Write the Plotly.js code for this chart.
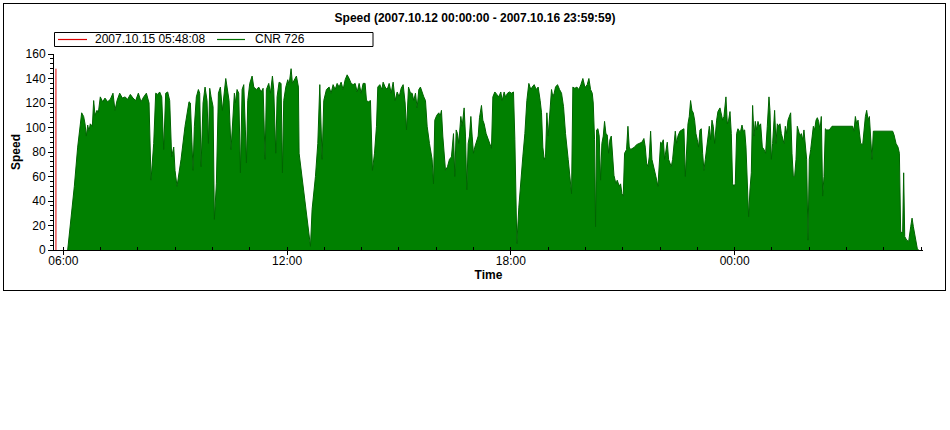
<!DOCTYPE html>
<html><head><meta charset="utf-8">
<script src="https://cdn.plot.ly/plotly-3.0.1.min.js"></script>
<style>
html,body{margin:0;padding:0;background:#fff;}
#wrap{position:relative;width:950px;height:430px;}
#chart{width:950px;height:430px;}
#frame{position:absolute;left:3px;top:3px;width:941px;height:286px;border:1px solid #000;pointer-events:none;}
</style></head><body>
<div id="wrap"><div id="chart"></div><div id="frame"></div></div>
<script>
// ---- data ----
const chartTitle = 'Speed (2007.10.12 00:00:00 - 2007.10.16 23:59:59)';
const markerTime = '2007-10-15 05:48:08';
const markerLabel = '2007.10.15 05:48:08';
const seriesName = 'CNR 726';
const xTitle = 'Time';
const yTitle = 'Speed';
const dayStartUTC = Date.UTC(2007, 9, 15); // minutes below are counted from 2007-10-15 00:00

const minA = [367.0,372.3,377.7,383.1,387.3,389.5,392.7,394.9,397.0,399.2,401.3,403.4,406.7,408.8,411.0,414.2,416.3,419.5,423.3,427.0,431.3,435.6,439.9,443.1,446.4,450.7,455.0,459.2,463.5,467.8,472.1,476.4,480.7,485.0,489.3,493.6,497.9,501.1,505.4,508.6,511.8,515.0,518.3,521.5,524.7,527.9,531.1,534.3,537.6,539.7,542.9,549.4,555.8,560.1,562.2,564.4,566.5,568.7,570.8,574.0,577.3,579.4,581.6,584.8,588.0,591.2,593.4,595.5,597.7,600.9,603.0,606.2,609.5,612.7,615.9,619.1,621.3,623.4,626.6,629.8,633.1,635.2];
const spdA = [0,25,52,84,101,112,109,103,93,102,97,103,101,122,110,114,112,125,121,124,121,123,128,114,122,128,124,125,123,127,124,122,128,121,125,128,120,57,87,128,127,129,125,82,128,129,122,76,84,65,52,74,101,114,121,120,93,65,101,125,131,128,68,120,133,122,87,132,125,117,25,54,128,133,114,128,140,133,122,82,117,128];

const minB = [636.8,639.5,642.2,644.9,647.6,650.3,652.9,654.6,656.7,659.9,663.7,666.4,670.6,674.4,678.2,681.4,684.6,686.7,690.5,693.2,696.4,698.5,701.8,703.9,707.1,710.3,712.5,714.6,717.9,721.1,723.2,726.4,728.6,731.8,735.0,738.2,739.3,757.6,760.2,765.6,769.4,772.6,776.3,779.0,783.3,787.6,790.8,794.0,797.3,800.5,803.7,806.9,810.1,813.4,816.6,819.8,823.0,826.2,829.5,832.7,835.9,839.1,842.3,845.5,847.7,850.9,854.1,857.3,860.6,863.8,865.9,869.2,872.4,874.5,877.7,881.0,884.2,887.4,890.6,893.8,897.1,900.3,903.5,906.7,909.9,912.1,915.3,918.5];
const spdB = [120,131,128,63,131,135,98,71,122,136,142,133,131,133,129,132,74,131,136,128,142,131,79,125,137,136,63,122,133,139,135,148,136,139,142,133,79,3,33,60,87,135,74,122,131,133,128,135,131,136,133,137,131,139,143,140,136,135,136,129,136,128,136,136,122,121,122,65,79,101,133,135,131,137,133,131,136,128,137,122,129,125,132,135,120,98,133,128];

const minC = [921.1,923.8,926.5,929.2,931.9,934.5,937.2,939.9,942.6,945.3,949.0,953.3,955.5,957.6,960.8,964.1,966.2,968.3,970.5,972.6,974.8,978.0,981.2,984.4,987.7,989.8,992.0,994.1,996.2,999.5,1001.6,1004.8,1007.0,1009.1,1011.3,1013.4,1015.6,1017.7,1019.8,1022.0,1024.1,1027.4,1029.5,1032.7,1034.9,1037.0,1040.2,1043.5,1045.6,1048.8,1051.0,1054.2,1057.4,1060.6,1063.8,1066.0,1069.2,1071.4,1074.6,1077.8,1081.0,1084.2,1086.4,1089.6,1092.8,1096.0,1099.2,1102.5,1105.7,1108.9,1112.1,1114.3,1117.5,1120.7,1123.9,1127.1,1129.3,1131.4,1133.6,1135.7,1137.9,1140.0,1143.2,1145.4,1147.5,1149.7,1151.8,1155.0,1158.3,1161.5,1164.7,1167.9,1172.2,1175.4,1177.6,1179.7,1182.9,1186.2,1189.4,1192.6,1195.8,1199.0];
const spdC = [128,122,128,116,131,133,128,125,122,101,87,74,54,106,110,112,109,114,93,74,65,68,74,76,95,60,98,95,87,109,101,116,93,49,87,93,109,93,79,84,87,93,108,118,106,103,95,90,86,83,125,129,127,125,129,122,129,125,128,129,128,129,90,5,35,60,76,95,122,136,131,133,135,131,133,122,112,84,74,76,112,93,117,131,125,128,133,135,131,128,117,95,74,57,46,133,132,133,131,135,140,133];

const minD = [1200.1,1202.8,1205.5,1208.2,1210.9,1212.5,1214.6,1216.2,1217.9,1220.0,1222.1,1224.3,1226.4,1228.6,1230.7,1232.9,1235.0,1237.2,1239.3,1241.5,1243.6,1245.8,1249.0,1251.1,1254.3,1256.5,1258.6,1260.8,1262.9,1266.1,1268.3,1270.4,1272.6,1275.8,1279.0,1282.2,1286.5,1290.8,1294.0,1296.2,1298.3,1300.5,1302.6,1304.8,1306.9,1310.1,1313.3,1316.6,1318.7,1320.9,1323.0,1325.2,1327.3,1329.4,1331.6,1333.7,1335.9,1338.0,1340.2,1342.3,1344.5,1346.6,1348.8,1352.0,1355.2,1358.4,1360.6,1362.7,1364.9,1367.0,1369.1,1371.3,1373.4,1375.6,1377.7,1379.9,1382.0,1384.2,1386.3,1388.5,1390.6,1392.8,1394.9,1397.0,1399.2,1401.3,1403.5,1405.6,1407.8,1411.0,1413.1,1416.4,1418.5,1420.7,1422.8,1426.0,1428.2,1430.3,1432.5,1434.6,1436.7,1438.9,1441.0,1443.2,1445.3,1447.5,1449.6,1451.8,1453.9,1456.1,1458.2,1460.4,1462.5,1464.6,1466.8,1468.9,1471.1,1473.2,1475.4,1477.5,1479.7,1481.8];
const spdD = [133,135,140,131,128,120,90,19,98,99,93,57,87,93,105,95,94,79,90,93,74,61,54,57,52,54,46,44,79,82,101,84,82,83,84,86,87,88,91,84,71,68,76,97,74,68,60,52,74,88,87,90,74,82,88,74,71,68,74,84,97,87,93,97,98,99,60,87,103,109,122,114,112,106,95,90,84,98,99,79,65,74,84,95,101,90,106,101,87,106,113,116,112,106,109,125,103,106,113,95,54,52,54,95,99,97,97,102,97,98,84,52,27,49,63,118,93,105,98,105,101,103];

const minE = [1484.5,1487.2,1489.8,1492.5,1495.2,1496.8,1499.0,1501.1,1504.3,1506.5,1508.6,1510.8,1512.9,1515.1,1517.2,1519.4,1521.5,1523.6,1525.8,1527.9,1530.1,1532.2,1534.4,1536.5,1538.7,1540.8,1543.0,1545.1,1547.2,1549.4,1551.5,1553.7,1555.8,1558.0,1560.1,1562.3,1564.4,1566.6,1568.7,1570.9,1573.0,1575.1,1577.3,1579.4,1581.6,1583.7,1585.9,1588.0,1592.3,1596.6,1629.9,1632.0,1634.2,1636.3,1638.5,1640.6,1642.7,1646.0,1648.1,1650.3,1652.4,1654.6,1656.7,1658.8,1661.0,1663.1,1694.2,1696.4,1699.6,1702.8,1705.0,1707.1,1710.3,1711.9,1713.6,1716.8,1720.0,1723.2,1725.4,1727.5,1730.7,1733.9,1736.1];
const spdE = [84,82,79,101,125,114,74,87,114,87,103,101,103,95,90,87,101,95,106,109,112,79,60,60,74,101,97,93,95,90,98,84,74,8,74,82,93,101,98,106,108,105,98,109,44,60,99,98,98,101,101,97,109,103,106,97,87,86,101,109,114,106,109,87,74,97,97,94,87,84,79,14,15,63,11,8,7,19,26,19,8,1,0];

const xRange = ['2007-10-15 05:45:00', '2007-10-16 05:03:00'];
const yRange = [0, 160];

// ---- build ----
const minutes = [].concat(minA, minB, minC, minD, minE);
const speed = [].concat(spdA, spdB, spdC, spdD, spdE);
const times = minutes.map(m => dayStartUTC + Math.round(m * 60000));
const markerTop = Math.max(...speed);

const FONT = 'Liberation Sans, Arial, Helvetica, sans-serif';
const black = '#000000';
const RED = '#dd0000';
const GREEN_LINE = '#007000';

// plot area geometry (px) used to place the legend box in paper units
const PL = 54, PR = 923, PT = 54, PB = 250;
const px = v => (v - PL) / (PR - PL);
const py = v => (PB - v) / (PB - PT);
const legY = py(39.5);

const traces = [
  {
    type: 'scatter', mode: 'lines', name: markerLabel,
    x: [markerTime, markerTime], y: [0, markerTop],
    line: {color: RED, width: 1}, hoverinfo: 'skip'
  },
  {
    type: 'scatter', mode: 'lines', name: seriesName,
    x: times, y: speed, fill: 'tozeroy', fillcolor: '#008000',
    line: {color: '#006400', width: 1}
  }
];

const layout = {
  width: 950, height: 430,
  margin: {l: PL, r: 950 - PR, t: PT, b: 430 - PB, pad: 0},
  paper_bgcolor: '#ffffff', plot_bgcolor: '#ffffff',
  font: {family: FONT, size: 12, color: black},
  showlegend: false,
  title: {
    text: chartTitle, x: 0.5, xanchor: 'center', y: 1 - 18 / 430, yanchor: 'middle',
    font: {family: FONT, size: 12, color: black, weight: 'bold'}
  },
  shapes: [
    {type: 'rect', xref: 'paper', yref: 'paper', x0: px(54.5), x1: px(373), y0: py(46.5), y1: py(32.5),
     line: {color: black, width: 1}, fillcolor: '#ffffff', layer: 'above'},
    {type: 'line', xref: 'paper', yref: 'paper', x0: px(58), x1: px(87), y0: legY, y1: legY,
     line: {color: RED, width: 1.2}, layer: 'above'},
    {type: 'line', xref: 'paper', yref: 'paper', x0: px(217), x1: px(245), y0: legY, y1: legY,
     line: {color: GREEN_LINE, width: 1.2}, layer: 'above'}
  ],
  annotations: [
    {xref: 'paper', yref: 'paper', x: px(93), y: legY, xanchor: 'left', yanchor: 'middle',
     text: markerLabel, showarrow: false, font: {family: FONT, size: 12, color: black}},
    {xref: 'paper', yref: 'paper', x: px(253), y: legY, xanchor: 'left', yanchor: 'middle',
     text: seriesName, showarrow: false, font: {family: FONT, size: 12, color: black}}
  ],
  xaxis: {
    type: 'date', range: xRange, tickformat: '%H:%M',
    tick0: '2007-10-15 00:00:00', dtick: 21600000,
    ticks: 'outside', ticklen: 4, tickcolor: black, tickwidth: 1,
    ticklabelstandoff: -4,
    showline: true, linecolor: black, linewidth: 1, showgrid: false, zeroline: false,
    minor: {dtick: 3600000, ticks: 'inside', ticklen: 3, tickcolor: black, showgrid: false},
    tickfont: {family: FONT, size: 12, color: black},
    title: {text: xTitle, standoff: 0, font: {family: FONT, size: 12, color: black, weight: 'bold'}},
    fixedrange: true
  },
  yaxis: {
    range: yRange, dtick: 20, tick0: 0,
    ticks: 'outside', ticklen: 5, tickcolor: black, tickwidth: 1,
    showline: true, linecolor: black, linewidth: 1, showgrid: false, zeroline: false,
    minor: {dtick: 4, ticks: 'outside', ticklen: 3, tickcolor: black, showgrid: false},
    tickfont: {family: FONT, size: 12, color: black},
    title: {text: yTitle, standoff: 2, font: {family: FONT, size: 12, color: black, weight: 'bold'}},
    fixedrange: true
  },
  xaxis2: {
    type: 'date', overlaying: 'x', side: 'top', anchor: 'y2', range: xRange,
    tick0: '2007-10-15 00:00:00', dtick: 3600000,
    ticks: 'inside', ticklen: 3, tickcolor: black, showticklabels: false,
    showline: true, linecolor: black, linewidth: 1, showgrid: false, zeroline: false, fixedrange: true
  },
  yaxis2: {
    overlaying: 'y', side: 'right', anchor: 'x2', range: yRange,
    tick0: 0, dtick: 4,
    ticks: 'inside', ticklen: 3, tickcolor: black, showticklabels: false,
    showline: true, linecolor: black, linewidth: 1, showgrid: false, zeroline: false, fixedrange: true
  }
};

Plotly.newPlot('chart', traces, layout, {staticPlot: true, displayModeBar: false});
</script>
</body></html>
